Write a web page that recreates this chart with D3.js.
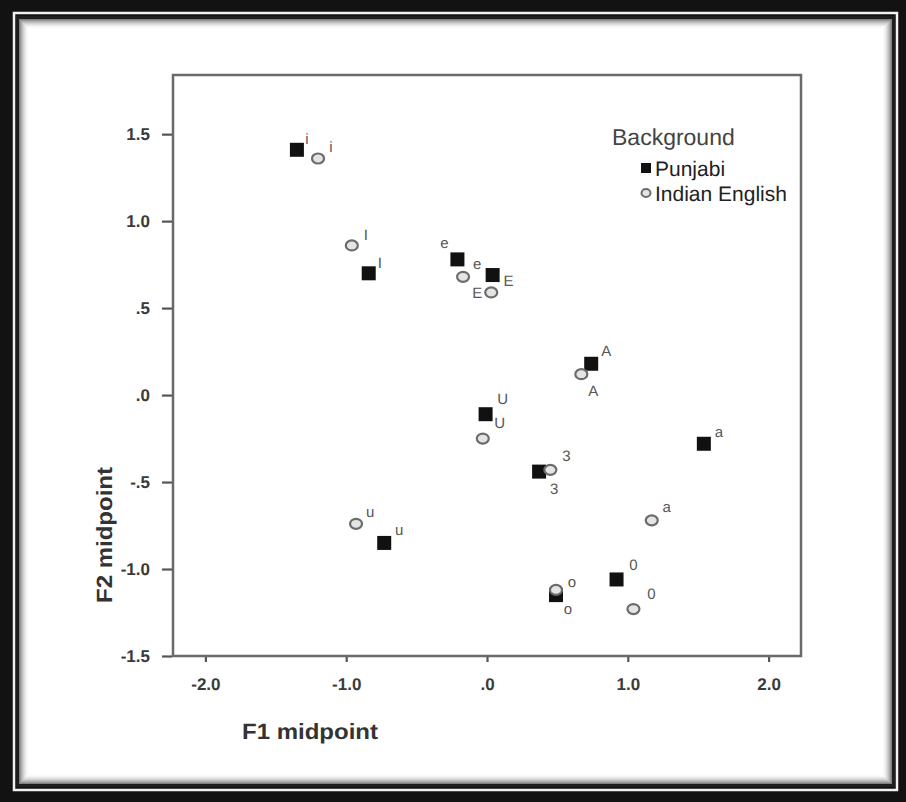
<!DOCTYPE html>
<html>
<head>
<meta charset="utf-8">
<script src="https://cdn.jsdelivr.net/npm/d3@7"></script>
<style>
  html, body { margin: 0; padding: 0; background: #000; }
  svg { display: block; font-family: "Liberation Sans", Arial, sans-serif; }
  text { text-rendering: geometricPrecision; }
</style>
</head>
<body>
<svg id="chart" width="906" height="802"></svg>
<script>
// vowel categories and formant midpoints (normalised)
const vowels = ["i", "I", "e", "E", "A", "U", "3", "a", "u", "o", "O"];
const punjabiF1 = [-1.35, -0.84, -0.21, 0.04, 0.74, -0.01, 0.37, 1.54, -0.73, 0.49, 0.92];
const punjabiF2 = [1.41, 0.70, 0.78, 0.69, 0.18, -0.11, -0.44, -0.28, -0.85, -1.15, -1.06];
const indianF1 = [-1.20, -0.96, -0.17, 0.03, 0.67, -0.03, 0.45, 1.17, -0.93, 0.49, 1.04];
const indianF2 = [1.36, 0.86, 0.68, 0.59, 0.12, -0.25, -0.43, -0.72, -0.74, -1.12, -1.23];
const labelTexts = ["i", "I", "e", "E", "A", "U", "3", "a", "u", "o", "0"];

const xTicks = [-2, -1, 0, 1, 2];
const yTicks = [-1.5, -1, -0.5, 0, 0.5, 1, 1.5];
const groups = ["Punjabi", "Indian English"];

// label placement next to each marker (pixels)
const punjabiLabelOffset = [[10,-10],[11,-10],[-13,-16],[16,6],[15,-12],[17,-15],[15,18],[15,-11],[15,-12],[16,-13],[17,-14]];
const indianLabelOffset = [[13,-11],[14,-10],[14,-12],[-14,1],[12,17],[17,-15],[16,-13],[15,-13],[14,-11],[12,20],[18,-15]];

const svg = d3.select("#chart");
const W = 906, H = 802;

// picture frame
svg.append("rect").attr("width", W).attr("height", H).attr("fill", "#121212");
svg.append("rect").attr("x", 14).attr("y", 13).attr("width", 883).attr("height", 777)
    .attr("fill", "none").attr("stroke", "#f2f2f2").attr("stroke-width", 2.5);
svg.append("rect").attr("x", 17.5).attr("y", 17.5).attr("width", 876).attr("height", 768)
    .attr("fill", "#fff").attr("stroke", "#1e1e1e").attr("stroke-width", 3);
// soft inner shadow
for (let i = 0; i < 10; i++) {
    svg.append("rect")
        .attr("x", 19.5 + i).attr("y", 19.5 + i)
        .attr("width", 872 - 2 * i).attr("height", 764 - 2 * i)
        .attr("fill", "none")
        .attr("stroke", "#000")
        .attr("stroke-opacity", 0.5 * Math.pow(1 - i / 10, 2))
        .attr("stroke-width", 1);
}

// plot area
const plotLeft = 173, plotRight = 801, plotTop = 75, plotBottom = 656;
const x = d3.scaleLinear().domain([-2.23, 2.23]).range([plotLeft, plotRight]);
const y = d3.scaleLinear().domain([-1.5, 1.84]).range([plotBottom, plotTop]);

// SPSS-style labels: no leading zero, ascii hyphen
const fmt = d => {
    if (d === 0) return ".0";
    const s = d.toFixed(1);
    return s.replace(/^(-?)0\./, "$1.");
};

const xAxis = d3.axisBottom(x).tickValues(xTicks).tickFormat(fmt).tickSizeInner(6).tickSizeOuter(0).tickPadding(16);
const yAxis = d3.axisLeft(y).tickValues(yTicks).tickFormat(fmt).tickSizeInner(10).tickSizeOuter(0).tickPadding(12);

const gx = svg.append("g").attr("transform", `translate(0,${plotBottom})`).call(xAxis);
const gy = svg.append("g").attr("transform", `translate(${plotLeft - 1},0)`).call(yAxis);
[gx, gy].forEach(g => {
    g.select(".domain").remove();
    g.selectAll(".tick line").attr("stroke", "#555").attr("stroke-width", 2.2);
    g.selectAll(".tick text")
        .attr("fill", "#3a3a3a")
        .attr("font-size", 17)
        .attr("font-weight", "bold")
        .attr("font-family", "'Liberation Sans', Arial, sans-serif");
});

svg.append("rect")
    .attr("x", plotLeft).attr("y", plotTop)
    .attr("width", plotRight - plotLeft).attr("height", plotBottom - plotTop)
    .attr("fill", "none").attr("stroke", "#6a6a6a").attr("stroke-width", 2.5);

// axis titles
svg.append("text")
    .attr("x", 310).attr("y", 731)
    .attr("text-anchor", "middle").attr("dominant-baseline", "central")
    .attr("font-size", 22).attr("font-weight", "bold").attr("fill", "#333")
    .attr("textLength", 136).attr("lengthAdjust", "spacingAndGlyphs")
    .text("F1 midpoint");
svg.append("text")
    .attr("transform", "translate(104,535) rotate(-90)")
    .attr("text-anchor", "middle").attr("dominant-baseline", "central")
    .attr("font-size", 22).attr("font-weight", "bold").attr("fill", "#333")
    .attr("textLength", 136).attr("lengthAdjust", "spacingAndGlyphs")
    .text("F2 midpoint");

// points
const punjabi = vowels.map((v, i) => ({ v, f1: punjabiF1[i], f2: punjabiF2[i], lab: labelTexts[i], off: punjabiLabelOffset[i] }));
const indian = vowels.map((v, i) => ({ v, f1: indianF1[i], f2: indianF2[i], lab: labelTexts[i], off: indianLabelOffset[i] }));

const sq = 14;
svg.append("g").selectAll("rect")
    .data(punjabi)
    .enter().append("rect")
    .attr("x", d => x(d.f1) - sq / 2)
    .attr("y", d => y(d.f2) - sq / 2)
    .attr("width", sq).attr("height", sq)
    .attr("fill", "#111");

svg.append("g").selectAll("ellipse")
    .data(indian)
    .enter().append("ellipse")
    .attr("cx", d => x(d.f1))
    .attr("cy", d => y(d.f2))
    .attr("rx", 6).attr("ry", 5)
    .attr("fill", "#e4e4e4")
    .attr("stroke", "#6b6b6b")
    .attr("stroke-width", 2.2);

const labelGroup = svg.append("g")
    .attr("opacity", 0.99)
    .attr("fill", "#555")
    .attr("text-anchor", "middle")
    .attr("dominant-baseline", "central");

labelGroup.selectAll("text.pj")
    .data(punjabi)
    .enter().append("text")
    .attr("class", "pj")
    .attr("x", d => x(d.f1) + d.off[0])
    .attr("y", d => y(d.f2) + d.off[1])
    .attr("font-size", 15)
    .text(d => d.lab);

labelGroup.selectAll("text.ie")
    .data(indian)
    .enter().append("text")
    .attr("class", "ie")
    .attr("x", d => x(d.f1) + d.off[0])
    .attr("y", d => y(d.f2) + d.off[1])
    .attr("font-size", 15)
    .text(d => d.lab);

// legend
const legend = svg.append("g");
legend.append("text")
    .attr("x", 612).attr("y", 137)
    .attr("dominant-baseline", "central")
    .attr("font-size", 23).attr("fill", "#444")
    .text("Background");
legend.append("rect")
    .attr("x", 641).attr("y", 163).attr("width", 10).attr("height", 10)
    .attr("fill", "#111");
legend.append("ellipse")
    .attr("cx", 646).attr("cy", 193).attr("rx", 4.5).attr("ry", 4)
    .attr("fill", "#e4e4e4").attr("stroke", "#6b6b6b").attr("stroke-width", 2);
legend.selectAll("text.item")
    .data(groups)
    .enter().append("text")
    .attr("class", "item")
    .attr("x", 655)
    .attr("y", (d, i) => 169 + i * 25)
    .attr("dominant-baseline", "central")
    .attr("font-size", 21).attr("fill", "#222")
    .text(d => d);
</script>
</body>
</html>
